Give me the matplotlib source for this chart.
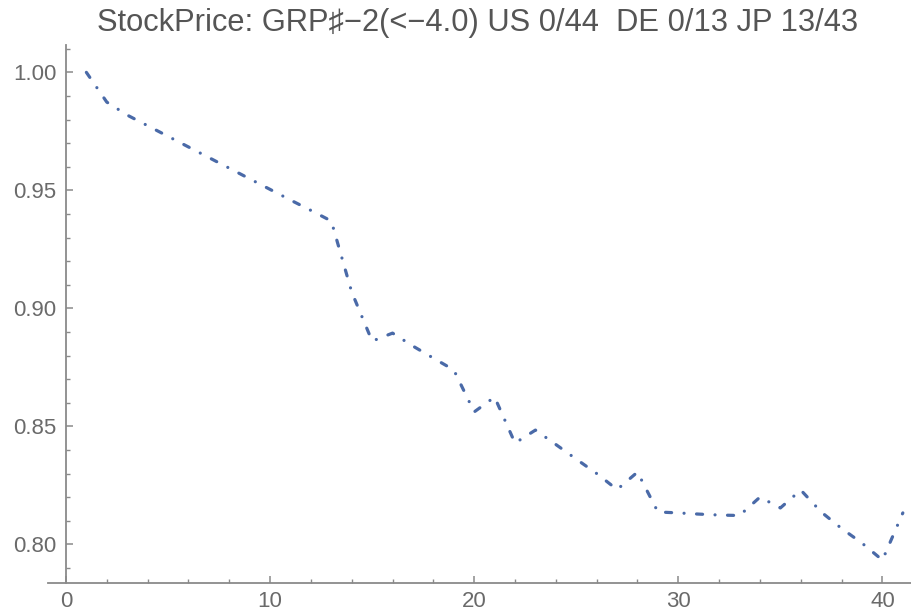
import numpy as np
import matplotlib as mpl
mpl.use('Agg')
import matplotlib.pyplot as plt
from matplotlib.ticker import MultipleLocator

#data (index = day)
days = list(range(1, 42))
price = [1.0000, 0.9874, 0.9819, 0.9774, 0.9729, 0.9684, 0.9639, 0.9594, 0.9549, 0.9504,
         0.9459, 0.9415, 0.9370, 0.9069, 0.8861, 0.8895, 0.8840, 0.8789, 0.8739, 0.8561,
         0.8624, 0.8429, 0.8484, 0.8423, 0.8361, 0.8300, 0.8232, 0.8306, 0.8137, 0.8133,
         0.8128, 0.8124, 0.8122, 0.8200, 0.8154, 0.8230, 0.8137, 0.8067, 0.8005, 0.7933,
         0.8133]
xticks = [0, 10, 20, 30, 40]
yticks = [0.80, 0.85, 0.90, 0.95, 1.00]
title = 'StockPrice: GRP\u266f\u22122(<\u22124.0) US 0/44  DE 0/13 JP 13/43'

plt.rcParams['font.family'] = ['Liberation Sans', 'DejaVu Sans']

fig = plt.figure(figsize=(9.11, 6.16), dpi=100)
ax = fig.add_axes([48/911, 33/616, 1 - 48/911, (583 - 45)/616])

#dot-dashed line, dash lengths are in units of linewidth
line, = ax.plot(days, price, color='#4a6aa8', lw=2.3, dash_capstyle='round')
line.set_dashes([1.9, 3.9, 0.01, 3.9])

ax.set_xlim(-0.88, 41.4)
ax.set_ylim(0.7836, 1.0116)

#mathematica style axes
ax.spines['top'].set_visible(False)
ax.spines['right'].set_visible(False)
ax.spines['left'].set_position(('data', 0))
for s in ['left', 'bottom']:
    ax.spines[s].set_color('#8a8a8a')
    ax.spines[s].set_linewidth(1.3)

ax.set_xticks(xticks)
ax.set_yticks(yticks)
ax.set_yticklabels(['%.2f' % v for v in yticks])
ax.xaxis.set_minor_locator(MultipleLocator(2))
ax.yaxis.set_minor_locator(MultipleLocator(0.01))
ax.tick_params(which='major', direction='in', length=5, width=1.1, color='#8a8a8a',
               labelsize=16, labelcolor='#6a6a6a')
ax.tick_params(which='minor', direction='in', length=3, width=1.0, color='#8a8a8a')
ax.tick_params(axis='y', which='major', pad=7)
ax.tick_params(axis='x', which='major', pad=6)

fig.text(478/911, 1 - 23/616, title, ha='center', va='center', fontsize=22.2, color='#555555')

fig.savefig('out.png', dpi=100)
